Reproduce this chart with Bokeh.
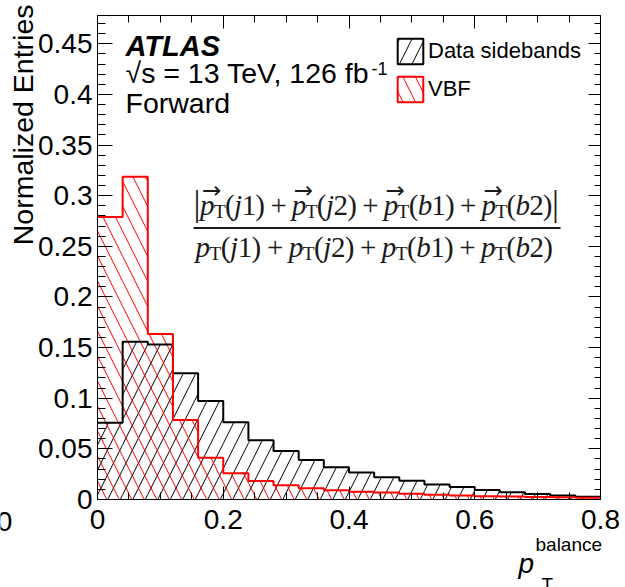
import math
from bokeh.plotting import figure
from bokeh.models import (Range1d, FixedTicker, LinearAxis, Label, Legend, LegendItem,
                          ColumnDataSource, BoxAnnotation)
from bokeh.embed import file_html
from bokeh.resources import INLINE

# ---------------- data ----------------
bin_edges = [0.00, 0.04, 0.08, 0.12, 0.16, 0.20, 0.24, 0.28, 0.32, 0.36, 0.40,
             0.44, 0.48, 0.52, 0.56, 0.60, 0.64, 0.68, 0.72, 0.76, 0.80]
data_sidebands = [0.0758, 0.1558, 0.1532, 0.1246, 0.0972, 0.0763, 0.0586, 0.0479, 0.0390, 0.0318,
                  0.0266, 0.0219, 0.0184, 0.0147, 0.0124, 0.0094, 0.0071, 0.0054, 0.0040, 0.0028]
vbf = [0.2790, 0.3187, 0.1634, 0.0785, 0.0413, 0.0259, 0.0183, 0.0140, 0.0112, 0.0092,
       0.0076, 0.0068, 0.0056, 0.0048, 0.0040, 0.0033, 0.0029, 0.0025, 0.0021, 0.0018]
series_labels = ["Data sidebands", "VBF"]
x_ticks = [0.0, 0.2, 0.4, 0.6, 0.8]
x_tick_labels = ["0", "0.2", "0.4", "0.6", "0.8"]
y_ticks = [0.0, 0.05, 0.1, 0.15, 0.2, 0.25, 0.3, 0.35, 0.4, 0.45]
y_tick_labels = ["0", "0.05", "0.1", "0.15", "0.2", "0.25", "0.3", "0.35", "0.4", "0.45"]
x_minor = [0.05 * i for i in range(17)]
y_minor = [0.01 * i for i in range(48)]

# ---------------- layout ----------------
W, H = 625, 587
FL, FR, FT, FB = 97, 600, 15, 499          # pixel box of the data area
XMIN, XMAX = 0.0, 0.8
YMIN, YMAX = 0.0, 0.478
sx = (XMAX - XMIN) / (FR - FL)
sy = (YMAX - YMIN) / (FB - FT)
x_range = Range1d(XMIN - FL * sx, XMAX + (W - FR) * sx)
y_range = Range1d(YMIN - (H - FB) * sy, YMAX + FT * sy)


def X(px):
    return XMIN + (px - FL) * sx


def Y(py):
    return YMIN + (FB - py) * sy


p = figure(width=W, height=H, x_range=x_range, y_range=y_range,
           x_axis_type=None, y_axis_type=None,
           output_backend="svg", toolbar_location=None,
           min_border_left=0, min_border_right=0, min_border_top=0, min_border_bottom=0)
p.grid.visible = False
p.outline_line_color = None
p.background_fill_color = "white"
p.border_fill_color = "white"

xticker = FixedTicker(ticks=x_ticks, minor_ticks=x_minor)
yticker = FixedTicker(ticks=y_ticks, minor_ticks=y_minor)


def make_axis(ticker, loc, bounds, tick_in, minor_in, labels, standoff, overrides=None):
    ax = LinearAxis(ticker=ticker, fixed_location=loc, bounds=bounds)
    ax.axis_line_color = "black"
    ax.axis_line_width = 1
    ax.major_tick_in = tick_in
    ax.major_tick_out = 0
    ax.minor_tick_in = minor_in
    ax.minor_tick_out = 0
    ax.major_tick_line_color = "black"
    ax.minor_tick_line_color = "black"
    ax.major_label_text_font = "Liberation Sans"
    ax.major_label_text_font_size = "28px"
    ax.major_label_standoff = standoff
    if labels:
        ax.major_label_text_color = "black"
        ax.major_label_overrides = overrides
    else:
        ax.major_label_text_color = None
    return ax


p.add_layout(make_axis(xticker, YMIN, (XMIN, XMAX), 13, 7, True, 10,
                       dict(zip(x_ticks, x_tick_labels))), "below")
p.add_layout(make_axis(yticker, XMIN, (YMIN, YMAX), 15, 8, True, 5,
                       dict(zip(y_ticks, y_tick_labels))), "left")
p.add_layout(make_axis(xticker, YMAX, (XMIN, XMAX), 13, 7, False, 0), "above")
p.add_layout(make_axis(yticker, XMAX, (YMIN, YMAX), 12, 6, False, 0), "right")

# ---------------- histograms ----------------
HATCH = 25
src_d = ColumnDataSource(dict(left=bin_edges[:-1], right=bin_edges[1:], top=data_sidebands))
src_v = ColumnDataSource(dict(left=bin_edges[:-1], right=bin_edges[1:], top=vbf))
p.quad(left="left", right="right", top="top", bottom=0, source=src_d,
       fill_alpha=0, line_alpha=0, hatch_pattern="/", hatch_color="black",
       hatch_scale=HATCH, hatch_weight=1)
p.quad(left="left", right="right", top="top", bottom=0, source=src_v,
       fill_alpha=0, line_alpha=0, hatch_pattern="\\", hatch_color="red",
       hatch_scale=HATCH, hatch_weight=1)
p.step(x=bin_edges, y=data_sidebands + [data_sidebands[-1]], mode="after",
       line_color="black", line_width=2)
p.step(x=bin_edges, y=vbf + [vbf[-1]], mode="after", line_color="red", line_width=2)

# legend proxies (same data, not drawn in the plot)
leg_d = p.quad(left="left", right="right", top="top", bottom=0, source=src_d, fill_alpha=0,
               hatch_pattern="/", hatch_color="black", hatch_scale=HATCH, hatch_weight=1,
               line_color="black", line_width=2, visible=False)
leg_v = p.quad(left="left", right="right", top="top", bottom=0, source=src_v, fill_alpha=0,
               hatch_pattern="\\", hatch_color="red", hatch_scale=HATCH, hatch_weight=1,
               line_color="red", line_width=2, visible=False)
legend = Legend(items=[LegendItem(label=series_labels[0], renderers=[leg_d], index=0),
                       LegendItem(label=series_labels[1], renderers=[leg_v], index=0)],
                location=(394, H - 105), glyph_width=32, glyph_height=32, label_height=32,
                spacing=6, padding=0, margin=0, label_standoff=2,
                label_text_font="Liberation Sans", label_text_font_size="22px",
                label_text_color="black", border_line_alpha=0, background_fill_alpha=0,
                inactive_fill_alpha=0)
p.add_layout(legend)

# ---------------- texts ----------------
SHIFT = 0.32   # empirical offset of the rendered alphabetic baseline, in em


def label(px, py, text, size, font="Liberation Sans", style="normal", align="left",
          angle=0.0, color="black"):
    p.add_layout(Label(x=X(px), y=Y(py - SHIFT * size), text=text, text_font=font,
                       text_font_size=f"{size}px", text_font_style=style,
                       text_align=align, text_baseline="alphabetic", angle=angle,
                       text_color=color))


label(125, 55, "ATLAS", 29, style="bold italic")
label(125, 82, "\u221as = 13 TeV, 126 fb", 28.5)
label(371, 74, "-1", 18)
label(125, 112, "Forward", 28.5)

# axis titles
p.add_layout(Label(x=X(22), y=Y(4), text="Normalized Entries", text_font="Liberation Sans",
                   text_font_size="28.5px", text_align="right", text_baseline="alphabetic",
                   angle=math.pi / 2, text_color="black"))
label(518, 572, "p", 28, style="italic")
label(535, 550, "balance", 19)
label(541, 590, "T", 19)
# stray clipped tick label at the far left
label(4, 530, "0", 28, align="center")

# formula (Times metrics)
REG = {"(": 333, ")": 333, "1": 500, "2": 500, "+": 564, "|": 200, "T": 611}
ITA = {"p": 500, "j": 278, "b": 500}
FS = 29
FCOL = "#1a1a1a"


def term(arg, num):
    return [("p", "italic", 1.0, 0), ("T", "normal", 0.68, 3), ("(", "normal", 1.0, 0),
            (arg, "italic", 1.0, 0), (num, "normal", 1.0, 0), (")", "normal", 1.0, 0)]


def op():
    return [("SP", None, 0.22, 0), ("+", "normal", 1.0, 0), ("SP", None, 0.22, 0)]


def build(with_bars):
    seq = []
    if with_bars:
        seq.append(("|", "normal", 1.2, 0))
    for i, (a, n) in enumerate([("j", "1"), ("j", "2"), ("b", "1"), ("b", "2")]):
        if i:
            seq += op()
        seq += term(a, n)
    if with_bars:
        seq.append(("|", "normal", 1.2, 0))
    return seq


def width(piece):
    t, st, sf, _ = piece
    if t == "SP":
        return sf * 1000
    tab = ITA if st == "italic" else REG
    return tab[t] * sf


def place(seq, x0, x1, base, arrows):
    total = sum(width(pc) for pc in seq)
    s = (x1 - x0) / total
    cx = x0
    for pc in seq:
        t, st, sf, dy = pc
        w = width(pc) * s
        if t != "SP":
            label(cx, base + dy, t, round(FS * sf, 1), font="Liberation Serif", style=st,
                  color=FCOL)
            if arrows and t == "p":
                label(cx + 0.85 * w, base - 17, "\u2192", 23, font="DejaVu Sans",
                      align="center", color=FCOL)
        cx += w


place(build(True), 193, 558, 214, True)
place(build(False), 195, 552, 256, False)
p.add_layout(BoxAnnotation(left=X(193), right=X(560), top=Y(226.5), bottom=Y(228.5),
                           fill_color=FCOL, fill_alpha=1, line_color=None))

open("out.html", "w").write(file_html(p, INLINE))
